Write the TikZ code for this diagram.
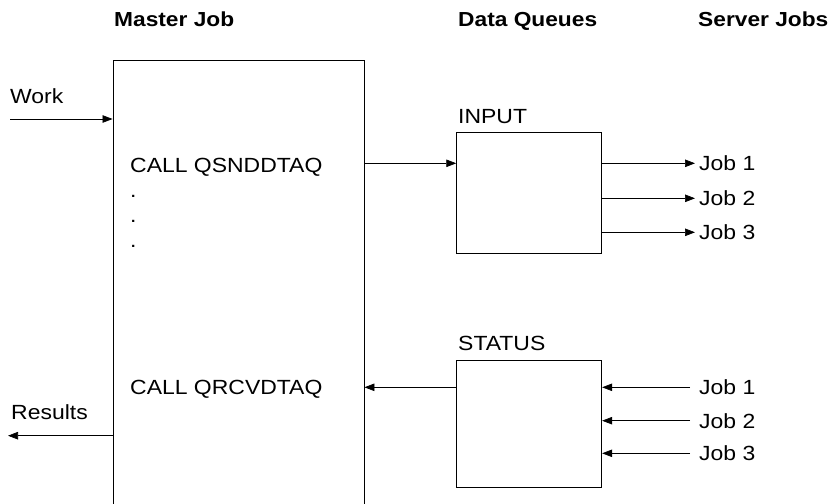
\documentclass[tikz,border=0pt]{standalone}
\usepackage{fontspec}
\setmainfont{Liberation Sans}[FakeStretch=1.12]
\usetikzlibrary{arrows.meta}
\begin{document}
\begin{tikzpicture}[x=1pt,y=-1pt,
  every node/.style={font=\fontsize{20.5}{24}\selectfont, inner sep=0pt},
  head/.style={font=\fontsize{20.3}{24}\selectfont\bfseries, anchor=base west},
  lbl/.style={anchor=base west},
  box/.style={draw, line width=0.9pt, rectangle},
  arr/.style={draw, line width=0.7pt, -{Triangle[length=10pt,width=7.5pt]}}
]
\useasboundingbox (0,0) rectangle (832,503);
% headings
\node[head] (hm) at (114,27) {Master Job};
\node[head] (hd) at (458,27) {Data Queues};
\node[head] (hs) at (698,27) {Server Jobs};
% master box (open at the bottom, cut by the page)
\node[box, minimum width=251pt, minimum height=460pt] (master) at (238.5,290) {};
% queues
\node[box, minimum width=145pt, minimum height=121pt] (input) at (529.2,193.3) {};
\node[box, minimum width=145pt, minimum height=127pt] (status) at (529.2,423.7) {};
\node[lbl] (inl) at (458,123) {INPUT};
\node[lbl] (stl) at (458,350) {STATUS};
% master texts
\node[lbl] (snd) at (130,172.3) {CALL QSNDDTAQ};
\node[lbl] (d1) at (130,197) {.};
\node[lbl] (d2) at (130,222) {.};
\node[lbl] (d3) at (130,247) {.};
\node[lbl] (rcv) at (130,394) {CALL QRCVDTAQ};
\node[lbl] (work) at (10,103.3) {Work};
\node[lbl] (res) at (11,419) {Results};
% server jobs
\node[anchor=west] (ij1) at (699,163.3) {Job 1};
\node[anchor=west] (ij2) at (699,198.3) {Job 2};
\node[anchor=west] (ij3) at (699,232.3) {Job 3};
\node[anchor=west] (sj1) at (699,387.3) {Job 1};
\node[anchor=west] (sj2) at (699,420.7) {Job 2};
\node[anchor=west] (sj3) at (699,453.3) {Job 3};
% connectors
\coordinate (win) at (10,119);
\coordinate (rout) at (8,435.7);
\draw[arr] (win) -- (master.west |- win);
\draw[arr] (master.west |- rout) -- (rout);
\draw[arr] (master.east |- ij1.west) -- (input.west |- ij1.west);
\draw[arr] (status.west |- sj1.west) -- (master.east |- sj1.west);
\foreach \j in {ij1,ij2,ij3} \draw[arr] (input.east |- \j.west) -- ([xshift=-4pt]\j.west);
\foreach \j in {sj1,sj2,sj3} \draw[arr] ([xshift=-9pt]\j.west) -- (status.east |- \j.west);
\end{tikzpicture}
\end{document}
